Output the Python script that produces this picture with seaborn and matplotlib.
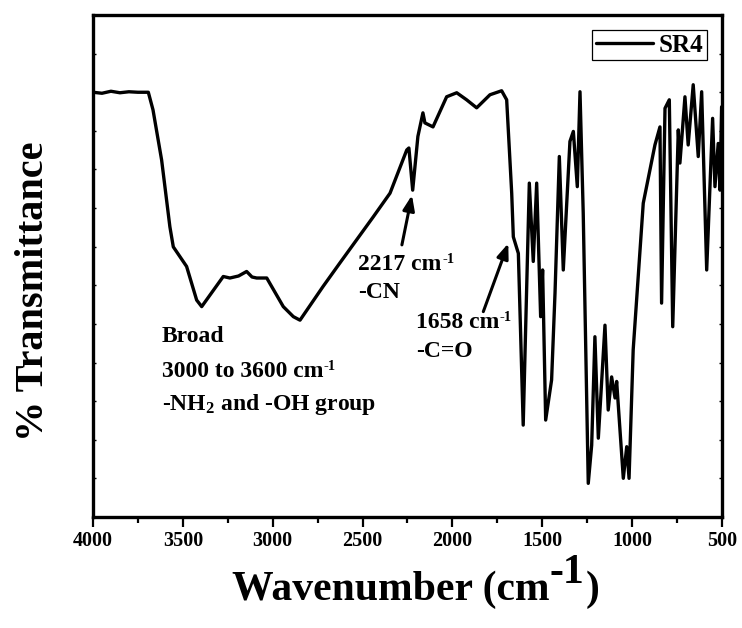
import numpy as np
import pandas as pd
import matplotlib
matplotlib.use("Agg")
import matplotlib.pyplot as plt
import seaborn as sns

# ---- data ----
wavenumber = [4000, 3950, 3900, 3850, 3800, 3750, 3692, 3666, 3618, 3572, 3553, 3479,
              3423, 3395, 3275, 3238, 3190, 3145, 3115, 3089, 3033, 2941, 2885, 2848,
              2720, 2626, 2533, 2440, 2347, 2254, 2242, 2221, 2192, 2164, 2153, 2108,
              2032, 1976, 1921, 1865, 1791, 1726, 1698, 1670, 1661, 1633, 1606, 1572,
              1550, 1531, 1509, 1498, 1481, 1448, 1429, 1405, 1383, 1346, 1327, 1305,
              1290, 1272, 1244, 1225, 1207, 1188, 1151, 1133, 1114, 1095, 1086, 1049,
              1030, 1017, 994, 938, 901, 873, 845, 836, 817, 793, 774, 743,
              734, 706, 688, 660, 632, 613, 585, 552, 539, 521, 511, 502]
transmittance = [84.6, 84.4, 84.8, 84.5, 84.7, 84.6, 84.6, 81.1, 71.1, 57.8, 53.8, 49.9,
                 43.2, 41.9, 47.9, 47.6, 48.0, 48.9, 47.8, 47.6, 47.6, 41.9, 39.9, 39.2,
                 45.9, 50.6, 55.2, 59.8, 64.5, 73.1, 73.5, 65.1, 75.8, 80.5, 78.5, 77.7,
                 83.7, 84.5, 83.1, 81.5, 84.1, 84.9, 83.1, 64.5, 55.8, 52.5, 18.3, 66.5,
                 50.9, 66.5, 39.9, 49.2, 19.3, 27.3, 44.6, 71.8, 49.2, 74.8, 76.8, 65.8,
                 84.7, 60.5, 6.7, 14.3, 35.9, 15.7, 38.2, 21.3, 27.9, 23.7, 27.0, 7.7,
                 14.0, 7.7, 33.3, 62.5, 69.1, 74.1, 77.7, 42.6, 81.4, 83.1, 37.9, 77.1,
                 70.5, 83.7, 74.1, 86.1, 71.8, 84.7, 49.2, 79.4, 65.8, 74.4, 65.1, 81.7]
series_name = "SR4"
x_ticks = [4000, 3500, 3000, 2500, 2000, 1500, 1000, 500]

df = pd.DataFrame({"Wavenumber": wavenumber, "T": transmittance, "Sample": series_name})

sns.set_style("ticks")
plt.rcParams["font.family"] = ["Liberation Serif", "DejaVu Serif"]
plt.rcParams["font.weight"] = "bold"
plt.rcParams["mathtext.fontset"] = "custom"
plt.rcParams["mathtext.rm"] = "Liberation Serif:bold"
plt.rcParams["mathtext.it"] = "Liberation Serif:bold"
plt.rcParams["mathtext.bf"] = "Liberation Serif:bold"
for k in ["text.color", "axes.labelcolor", "xtick.color", "ytick.color", "axes.edgecolor"]:
    plt.rcParams[k] = "black"

fig = plt.figure(figsize=(7.42, 6.28), dpi=100)
ax = fig.add_axes([0.1253, 0.1768, 0.8477, 0.7994])

sns.lineplot(data=df, x="Wavenumber", y="T", hue="Sample", palette=["black"],
             sort=False, estimator=None, linewidth=2.4, ax=ax)

ax.set_xlim(4000, 500)
ax.set_ylim(0, 100)
ax.set_xticks(x_ticks)
ax.set_xticklabels([str(v) for v in x_ticks], fontsize=14.5, fontweight="bold")
ax.set_xticks(np.arange(3750, 500, -500), minor=True)
ax.set_yticks(np.linspace(0, 100, 14))
ax.set_yticklabels([])
ax.tick_params(axis="x", which="major", direction="out", length=7, width=1.6, pad=3)
ax.tick_params(axis="x", which="minor", direction="out", length=4, width=1.6)
ax.tick_params(axis="y", direction="in", length=2, width=1, left=True, right=True)
for s in ax.spines.values():
    s.set_linewidth(2.4)
    s.set_color("black")

ax.set_xlabel("")
ax.set_ylabel("% Transmittance", fontsize=29, fontweight="bold")
ax.yaxis.set_label_coords(-0.065, 0.45)

# x label with full-size raised superscript
t1 = fig.text(232 / 742, 1 - 600 / 628, "Wavenumber (cm", fontsize=30,
              fontweight="bold", ha="left", va="baseline")
t2 = ax.annotate("-1", xy=(1, 0), xycoords=t1, xytext=(0, 12),
                 textcoords="offset points", fontsize=30, fontweight="bold",
                 ha="left", va="bottom", annotation_clip=False)
t3 = ax.annotate(")", xy=(1, 0), xycoords=t2, xytext=(1, -12),
                 textcoords="offset points", fontsize=30, fontweight="bold",
                 ha="left", va="bottom", annotation_clip=False)

# legend
leg = ax.legend(loc="upper right", fontsize=18, frameon=True, fancybox=False,
                edgecolor="black", framealpha=1, handlelength=2.3,
                handletextpad=0.2, borderpad=0.15, borderaxespad=0.6)
leg.get_frame().set_linewidth(0.9)
for line in leg.get_lines():
    line.set_linewidth(2.4)

# annotations
fs = 17


def sup_text(x, y, base, sup="-1"):
    b = ax.text(x, y, base, fontsize=fs, fontweight="bold", va="baseline")
    ax.annotate(sup, xy=(1, 1), xycoords=b, xytext=(0.5, 1),
                textcoords="offset points", fontsize=fs * 0.62,
                fontweight="bold", ha="left", va="top", annotation_clip=False)
    return b


ax.text(3618, 34.9, "Broad", fontsize=fs, fontweight="bold", va="baseline")
sup_text(3618, 27.9, "3000 to 3600 cm")
ax.text(3618, 21.3, "-NH$_{2}$ and -OH group", fontsize=fs, fontweight="bold", va="baseline")

sup_text(2524, 49.1, "2217 cm")
ax.text(2524, 43.6, "-CN", fontsize=fs, fontweight="bold", va="baseline")
ax.annotate("", xy=(2225, 64.1), xytext=(2281, 54.2),
            arrowprops=dict(arrowstyle="-|>,head_length=0.9,head_width=0.35",
                            color="black", lw=2.2, shrinkA=0, shrinkB=0))

sup_text(2203, 37.6, "1658 cm")
ax.text(2203, 31.9, "-C=O", fontsize=fs, fontweight="bold", va="baseline")
ax.annotate("", xy=(1689, 54.5), xytext=(1828, 40.9),
            arrowprops=dict(arrowstyle="-|>,head_length=0.9,head_width=0.35",
                            color="black", lw=2.2, shrinkA=0, shrinkB=0))

fig.savefig("out.png", dpi=100)
